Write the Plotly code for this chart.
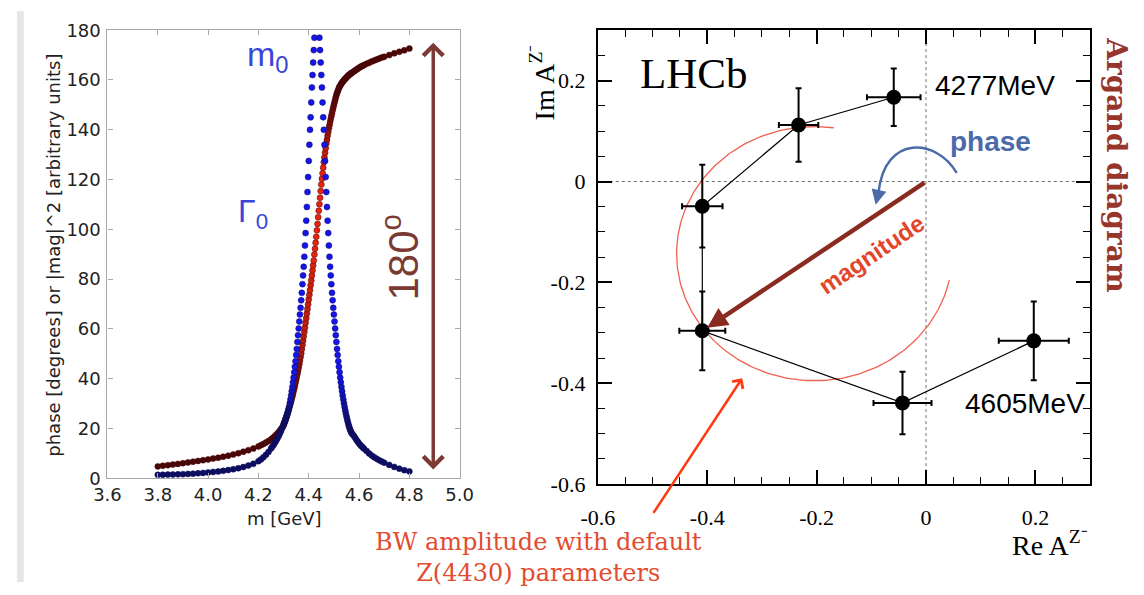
import numpy as np
import plotly.graph_objects as go

# ---------------- Left panel: Breit-Wigner phase and |amplitude|^2 vs mass ----------------
mass_gev = [
    3.80, 3.82, 3.84, 3.86, 3.88, 3.90, 3.92, 3.94, 3.96, 3.98,
    4.00, 4.02, 4.04, 4.06, 4.08, 4.10, 4.12, 4.14, 4.16, 4.18,
    4.20, 4.21, 4.22, 4.23, 4.24, 4.25,
    4.255, 4.260, 4.265, 4.270, 4.275, 4.280, 4.285, 4.290, 4.295, 4.300,
    4.3025, 4.3050, 4.3075, 4.3100, 4.3125, 4.3150, 4.3175, 4.3200, 4.3225, 4.3250,
    4.3275, 4.3300, 4.3325, 4.3350, 4.3375, 4.3400, 4.3425, 4.3450, 4.3475, 4.3500,
    4.3525, 4.3550, 4.3575, 4.3600, 4.3625, 4.3650, 4.3675, 4.3700, 4.3725, 4.3750,
    4.3775, 4.3800, 4.3825, 4.3850, 4.3875, 4.3900, 4.3925, 4.3950, 4.3975, 4.4000,
    4.4025, 4.4050, 4.4075, 4.4100, 4.4125, 4.4150, 4.4175, 4.4200, 4.4225, 4.4250,
    4.4275, 4.4300, 4.4325, 4.4350, 4.4375, 4.4400, 4.4425, 4.4450, 4.4475, 4.4500,
    4.4525, 4.4550, 4.4575, 4.4600, 4.4625, 4.4650, 4.4675, 4.4700, 4.4725, 4.4750,
    4.4775, 4.4800, 4.4825, 4.4850, 4.4875, 4.4900, 4.4925, 4.4950, 4.4975, 4.5000,
    4.5025, 4.5050, 4.5075, 4.5100, 4.5125, 4.5150, 4.5175, 4.5200, 4.5225, 4.5250,
    4.5275, 4.5300, 4.5325, 4.5350, 4.5375, 4.5400, 4.5425, 4.5450, 4.5475, 4.5500,
    4.5525, 4.5550, 4.5575, 4.5600, 4.5625, 4.5650, 4.5675, 4.5700,
    4.575, 4.580, 4.585, 4.590, 4.595, 4.600, 4.605, 4.610, 4.615, 4.620,
    4.63, 4.64, 4.65, 4.66, 4.67, 4.68, 4.69, 4.70,
    4.72, 4.74, 4.76, 4.78, 4.80,
]

phase_deg = [
    4.8, 5.05, 5.3, 5.55, 5.8, 6.1, 6.4, 6.7, 7.0, 7.3,
    7.6, 7.95, 8.3, 8.7, 9.1, 9.6, 10.1, 10.7, 11.3, 12.0,
    12.8, 13.3, 13.8, 14.4, 15.0, 15.6,
    16.0, 16.4, 16.9, 17.4, 17.9, 18.5, 19.1, 19.8, 20.5, 21.3,
    22.0, 22.7, 23.4, 24.1, 24.9, 25.7, 26.5, 27.4, 28.3, 29.2,
    30.1, 31.0, 32.0, 33.0, 34.0, 35.1, 36.2, 37.3, 38.4, 39.6,
    40.8, 42.0, 43.2, 44.5, 45.8, 47.2, 48.7, 50.2, 51.9, 53.6,
    55.3, 57.0, 58.8, 60.6, 62.5, 64.3, 66.2, 68.0, 69.9, 71.8,
    73.7, 75.6, 77.6, 79.5, 81.5, 83.5, 85.5, 87.5, 89.9, 92.2,
    94.6, 97.0, 99.6, 102.2, 104.9, 107.5, 110.1, 112.7, 115.4, 118.0,
    120.3, 122.5, 124.8, 127.0, 128.9, 130.8, 132.6, 134.5, 136.0, 137.6,
    139.1, 140.6, 141.8, 143.1, 144.3, 145.5, 146.6, 147.8, 148.9, 150.0,
    151.0, 152.0, 153.0, 154.0, 154.7, 155.4, 156.1, 156.8, 157.3, 157.7,
    158.2, 158.6, 158.9, 159.3, 159.6, 159.9, 160.2, 160.5, 160.7, 161.0,
    161.3, 161.5, 161.8, 162.0, 162.2, 162.4, 162.6, 162.8,
    163.1, 163.5, 163.8, 164.2, 164.5, 164.9, 165.2, 165.5, 165.7, 166.0,
    166.5, 166.9, 167.4, 167.8, 168.2, 168.6, 169.0, 169.3,
    170.0, 170.7, 171.3, 171.9, 172.6,
]

mag2_au = [
    1.40, 1.45, 1.50, 1.55, 1.61, 1.69, 1.79, 1.89, 2.04, 2.19,
    2.37, 2.58, 2.78, 3.02, 3.32, 3.67, 4.07, 4.54, 5.13, 5.83,
    6.9, 7.6, 8.45, 9.45, 10.6, 11.95,
    12.65, 13.4, 14.2, 15.05, 15.95, 16.9, 17.9, 19.0, 20.3, 21.6,
    22.3, 23.0, 23.7, 24.4, 25.2, 26.0, 26.9, 27.8, 28.8, 30.2,
    31.7, 33.3, 35.0, 36.7, 38.6, 40.5, 42.6, 44.8, 47.0, 49.5,
    52.0, 54.8, 57.5, 60.2, 63.0, 65.8, 68.5, 71.5, 74.5, 78.0,
    81.5, 85.0, 89.0, 93.5, 98.5, 103.5, 109.0, 115.0, 121.0, 127.5,
    134.0, 140.0, 145.0, 151.0, 157.0, 162.0, 167.0, 172.0, 177.0, 182.0,
    186.0, 189.0, 190.0, 189.0, 186.0, 182.0, 177.0, 172.0, 167.0, 162.0,
    157.0, 151.0, 145.0, 140.0, 134.0, 127.5, 121.0, 115.0, 109.0, 103.5,
    98.5, 93.5, 89.0, 85.0, 81.5, 78.0, 74.5, 71.5, 68.5, 65.8,
    63.0, 60.2, 57.5, 54.8, 52.0, 49.5, 47.0, 44.8, 42.6, 40.5,
    38.6, 36.7, 35.0, 33.3, 31.7, 30.2, 28.8, 27.4, 26.1, 24.9,
    23.8, 22.8, 21.8, 20.9, 20.1, 19.4, 18.8, 18.2,
    17.6, 17.0, 16.2, 15.4, 14.7, 14.0, 13.4, 12.9, 12.4, 11.9,
    11.0, 10.0, 9.2, 8.5, 7.9, 7.3, 6.8, 6.3,
    5.4, 4.6, 3.9, 3.3, 2.8,
]

mass_ticks = [3.6, 3.8, 4.0, 4.2, 4.4, 4.6, 4.8, 5.0]
left_y_ticks = [0, 20, 40, 60, 80, 100, 120, 140, 160, 180]

# ---------------- Right panel: LHCb Argand diagram ----------------
re_amp = [-0.059, -0.233, -0.409, -0.409, -0.043, 0.197]
im_amp = [0.167, 0.112, -0.049, -0.296, -0.439, -0.316]
re_err = [0.049, 0.036, 0.037, 0.042, 0.053, 0.064]
im_err = [0.057, 0.073, 0.082, 0.078, 0.062, 0.078]
argand_ticks = [-0.6, -0.4, -0.2, 0.0, 0.2]
argand_tick_text = ["-0.6", "-0.4", "-0.2", "0", "0.2"]

# BW amplitude circle with default Z(4430) parameters: centre, radius, drawn arc
bw_center = (-0.204, -0.143)
bw_radius = 0.252
bw_arc_deg = (82.0, 348.0)

# ---------------- helpers ----------------
W, H = 1144, 595
L_X = (93, 455)      # left panel plot area, px
L_Y = (20, 487)
R_X = (597, 1103)    # right panel plot area, px
R_Y = (20, 493)


def px_x(p):
    return p / W


def px_y(p):
    return 1 - p / H


def shade(xs, ys, sx, sy, dark, bright):
    """Steep stretches of a finely sampled curve break up into separate bright dots;
    flat stretches pile up into a dark band."""
    x = np.asarray(xs, float) * sx
    y = np.asarray(ys, float) * sy
    slope = np.abs(np.gradient(y, x))
    t = np.clip((slope - 3.5) / 5.0, 0, 1)
    cols = []
    for w in t:
        c = [int(round(d + (b - d) * w)) for d, b in zip(dark, bright)]
        cols.append(f"rgb({c[0]},{c[1]},{c[2]})")
    return cols


sx_left = (L_X[1] - L_X[0]) / (5.0 - 3.6)
sy_left = (L_Y[1] - L_Y[0]) / 180.0

fig = go.Figure()

fig.add_trace(go.Scatter(
    x=mass_gev, y=phase_deg, mode="markers", xaxis="x", yaxis="y",
    marker=dict(size=6, color=shade(mass_gev, phase_deg, sx_left, sy_left, (72, 6, 6), (232, 36, 14)),
                line=dict(width=0.5, color="rgb(72,6,6)")),
    showlegend=False, hoverinfo="skip"))

fig.add_trace(go.Scatter(
    x=mass_gev, y=mag2_au, mode="markers", xaxis="x", yaxis="y",
    marker=dict(size=6, color=shade(mass_gev, mag2_au, sx_left, sy_left, (14, 14, 96), (20, 20, 235)),
                line=dict(width=0.5, color="rgb(14,14,96)")),
    showlegend=False, hoverinfo="skip"))

# BW circle arc
theta = np.radians(np.linspace(bw_arc_deg[0], bw_arc_deg[1], 240))
fig.add_trace(go.Scatter(
    x=bw_center[0] + bw_radius * np.cos(theta),
    y=bw_center[1] + bw_radius * np.sin(theta),
    mode="lines", xaxis="x2", yaxis="y2",
    line=dict(color="#f0604e", width=1.3),
    showlegend=False, hoverinfo="skip"))

# measured points
fig.add_trace(go.Scatter(
    x=re_amp, y=im_amp, mode="lines+markers", xaxis="x2", yaxis="y2",
    line=dict(color="black", width=1.2),
    marker=dict(size=15, color="black"),
    error_x=dict(type="data", array=re_err, color="black", thickness=2, width=3),
    error_y=dict(type="data", array=im_err, color="black", thickness=2, width=3),
    showlegend=False, hoverinfo="skip"))

left_axis_common = dict(
    showline=True, linecolor="#a8a8a8", linewidth=1.2, mirror="ticks",
    ticks="inside", ticklen=5, tickcolor="#a8a8a8", tickwidth=1,
    showgrid=False, zeroline=False,
    tickfont=dict(family="DejaVu Sans", size=18, color="#222222"),
)
right_axis_common = dict(
    showline=True, linecolor="black", linewidth=2, mirror="ticks",
    ticks="inside", ticklen=14, tickcolor="black", tickwidth=1.5,
    showgrid=False, zeroline=False,
    tickfont=dict(family="Liberation Serif", size=22, color="black"),
    minor=dict(tickmode="linear", tick0=0, dtick=0.05, ticks="inside", ticklen=7,
               tickcolor="black", tickwidth=1.3, showgrid=False),
)

fig.update_layout(
    width=W, height=H,
    margin=dict(l=0, r=0, t=0, b=0),
    paper_bgcolor="white", plot_bgcolor="white",
    showlegend=False,
    xaxis=dict(domain=[px_x(L_X[0]), px_x(L_X[1])], range=[3.6, 5.0], anchor="y",
               tickmode="array", tickvals=mass_ticks, ticktext=[f"{v:.1f}" for v in mass_ticks],
               ticklabelstandoff=0, **left_axis_common),
    yaxis=dict(domain=[px_y(L_Y[1]), px_y(L_Y[0])], range=[0, 180], anchor="x",
               tickmode="array", tickvals=left_y_ticks, ticktext=[str(v) for v in left_y_ticks],
               ticklabelstandoff=2, **left_axis_common),
    xaxis2=dict(domain=[px_x(R_X[0]), px_x(R_X[1])], range=[-0.6, 0.3], anchor="y2",
                tickmode="array", tickvals=argand_ticks, ticktext=argand_tick_text,
                ticklabelstandoff=12, **right_axis_common),
    yaxis2=dict(domain=[px_y(R_Y[1]), px_y(R_Y[0])], range=[-0.6, 0.3], anchor="x2",
                tickmode="array", tickvals=argand_ticks, ticktext=argand_tick_text,
                ticklabelstandoff=6, **right_axis_common),
)

shapes = [
    # slide edge
    dict(type="rect", xref="paper", yref="paper", x0=0, x1=px_x(7), y0=0, y1=1,
         fillcolor="#e6e6e6", line=dict(width=0), layer="below"),
    # dotted zero lines
    dict(type="line", xref="x2", yref="y2 domain", x0=0, x1=0, y0=0, y1=1,
         line=dict(color="#707070", width=1, dash="3px,3px"), layer="below"),
    dict(type="line", xref="x2 domain", yref="y2", x0=0, x1=1, y0=0, y1=0,
         line=dict(color="#707070", width=1, dash="3px,3px"), layer="below"),
    # curved "phase" arrow
    dict(type="path", xref="x2", yref="y2",
         path="M 0.056,0.017 C 0.02,0.085 -0.075,0.095 -0.087,-0.022",
         line=dict(color="#4a6aa8", width=2.5)),
]
fig.update_layout(shapes=shapes)


def label(**kw):
    kw.setdefault("showarrow", False)
    kw.setdefault("xanchor", "center")
    kw.setdefault("yanchor", "middle")
    return kw


ann = []
# left panel text
ann.append(label(xref="paper", yref="paper", x=px_x(38), y=px_y(254), textangle=-90,
                 text="phase [degrees] or |mag|^2 [arbitrary units]",
                 font=dict(family="DejaVu Sans", size=18, color="#222222")))
ann.append(label(xref="paper", yref="paper", x=px_x(275), y=px_y(529),
                 text="m [GeV]", font=dict(family="DejaVu Sans", size=18, color="#222222")))
ann.append(label(xref="x", yref="y", x=4.24, y=169.5, text="m<sub>0</sub>",
                 font=dict(family="Liberation Sans", size=34, color="#3a46d6")))
ann.append(label(xref="x", yref="y", x=4.178, y=106.5, text="Γ<sub>0</sub>",
                 font=dict(family="Liberation Sans", size=32, color="#3a46d6")))
ann.append(label(xref="x", yref="y", x=4.763, y=88.7, textangle=-90,
                 text="180<sup>o</sup>", font=dict(family="Liberation Sans", size=42, color="#7b3a33")))
ann.append(dict(xref="x", yref="y", axref="x", ayref="y", x=4.895, y=175, ax=4.895, ay=3,
                text="", showarrow=True, arrowside="end+start", arrowhead=4, startarrowhead=4,
                arrowsize=1.1, startarrowsize=1.1, arrowwidth=3.5, arrowcolor="#7b3a33"))

# right panel text
ann.append(label(xref="x2", yref="y2", x=-0.424, y=0.215, text="LHCb",
                 font=dict(family="Liberation Serif", size=43, color="black")))
ann.append(label(xref="x2", yref="y2", x=0.012, y=0.19, xanchor="left",
                 text="4277MeV", font=dict(family="Liberation Sans", size=28, color="black")))
ann.append(label(xref="x2", yref="y2", x=0.294, y=-0.44, xanchor="right",
                 text="4605MeV", font=dict(family="Liberation Sans", size=28, color="black")))
ann.append(label(xref="x2", yref="y2", x=0.117, y=0.08,
                 text="<b>phase</b>", font=dict(family="Liberation Sans", size=28, color="#4a6aa8")))
ann.append(label(xref="x2", yref="y2", x=-0.10, y=-0.145, textangle=-34,
                 text="<b>magnitude</b>", font=dict(family="Liberation Sans", size=24, color="#e2452a")))
ann.append(label(xref="paper", yref="paper", x=px_x(540), y=px_y(74), textangle=-90,
                 text="Im A<sup>Z⁻</sup>", font=dict(family="Liberation Serif", size=28, color="black")))
ann.append(label(xref="paper", yref="paper", x=px_x(R_X[1]), y=px_y(555), xanchor="right",
                 text="Re A<sup>Z⁻</sup>", font=dict(family="Liberation Serif", size=28, color="black")))
ann.append(label(xref="paper", yref="paper", x=px_x(1130), y=px_y(160), textangle=90,
                 text="<b>Argand diagram</b>", font=dict(family="DejaVu Serif", size=28, color="#98352a")))
ann.append(label(xref="paper", yref="paper", x=px_x(536), y=px_y(569), align="center",
                 text="BW amplitude with default<br>Z(4430) parameters",
                 font=dict(family="DejaVu Serif", size=24, color="#e24c30")))

# magnitude arrow from the origin
ann.append(dict(xref="x2", yref="y2", axref="x2", ayref="y2", x=-0.400, y=-0.290, ax=0.0, ay=0.0,
                text="", showarrow=True, arrowhead=2, arrowsize=0.9, arrowwidth=4.5, arrowcolor="#8a2b22"))
# head of the phase arrow
ann.append(dict(xref="x2", yref="y2", axref="x2", ayref="y2", x=-0.092, y=-0.046, ax=-0.087, ay=-0.022,
                text="", showarrow=True, arrowhead=2, arrowsize=1.2, arrowwidth=2.5, arrowcolor="#4a6aa8"))
# pointer to the BW circle
ann.append(dict(xref="x2", yref="y2", axref="x2", ayref="y2", x=-0.336, y=-0.39, ax=-0.50, ay=-0.66,
                text="", showarrow=True, arrowhead=4, arrowsize=1.0, arrowwidth=2.5, arrowcolor="#ff3a12"))

fig.update_layout(annotations=ann)

fig.write_html("out.html")
